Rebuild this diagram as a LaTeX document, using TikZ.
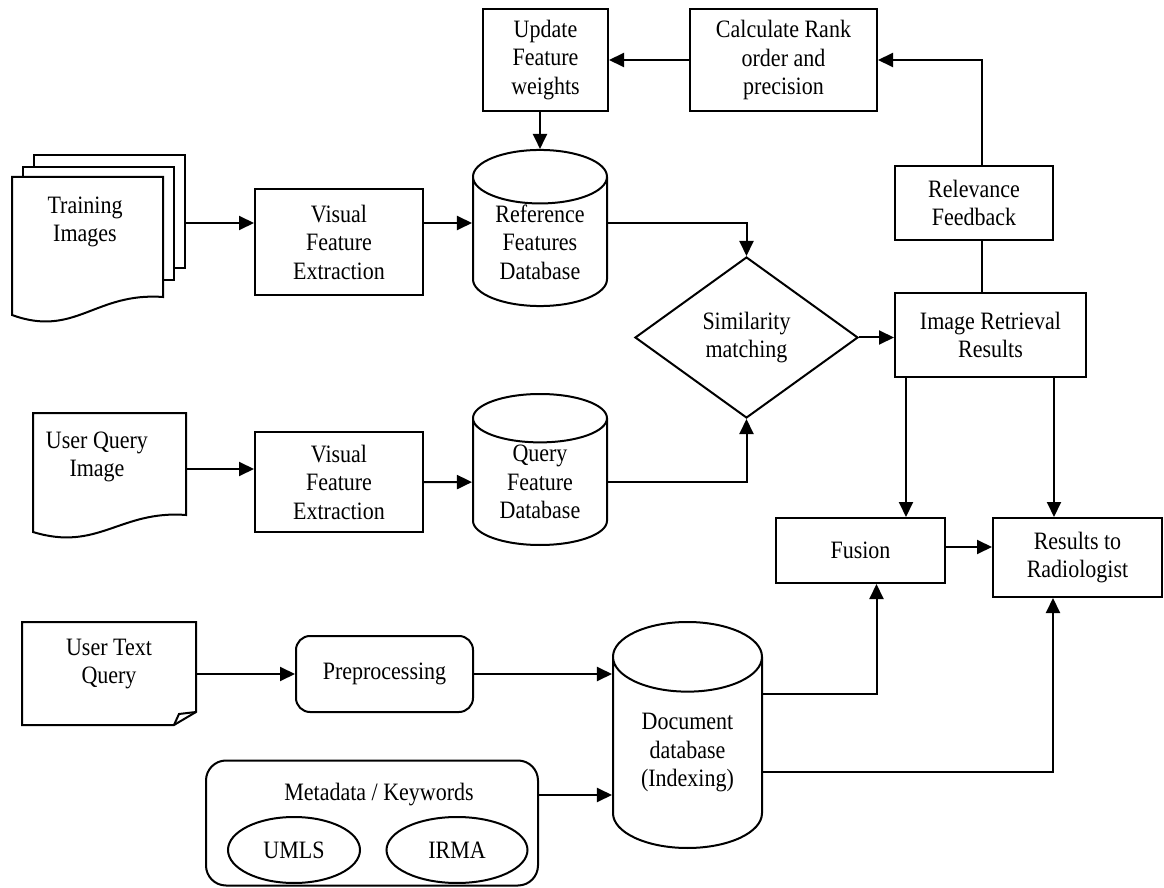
\documentclass[tikz,border=0pt]{standalone}
\usepackage{fontspec}
\setmainfont{Liberation Serif}[FakeStretch=0.88]
\usetikzlibrary{arrows.meta,shapes.geometric,calc}
\tikzset{
  box/.style={draw, line width=1pt, align=center, inner sep=2pt},
  rbox/.style={box, rounded corners=7pt},
  db/.style={cylinder, shape border rotate=90, draw, line width=1pt,
             align=center, inner sep=0pt, anchor=shape center},
  decide/.style={diamond, draw, line width=1pt, align=center, inner sep=0pt},
  oval/.style={ellipse, draw, line width=1pt, inner sep=0pt},
  doctext/.style={align=center, inner sep=1pt},
  link/.style={line width=1pt},
  flow/.style={-{Triangle[length=7.5pt,width=7pt]}, line width=1pt},
}
\begin{document}
\begin{tikzpicture}[x=0.5pt,y=-0.5pt,font=\fontsize{12.5}{14.25}\selectfont]
    \useasboundingbox (0,0) rectangle (1164,888);
    % document outlines
    \foreach \dx/\dy in {22/-22,11/-10} \draw[link,fill=white] (12+\dx,177+\dy) rectangle (163+\dx,290+\dy);
    \draw[link,fill=white] (12,177) -- (163,177) -- (163,297) .. controls (95,292) and (75,338) .. (12,315) -- cycle;
    \draw[link] (33,413) -- (186,413) -- (186,515) .. controls (120,510) and (98,552) .. (33,532) -- cycle;
    \draw[link] (22,622) -- (196,622) -- (196,712) -- (174,725) -- (22,725) -- cycle;
    \draw[link] (174,725) -- (179,714) -- (196,712);
    \node[doctext] (trn) at (85,222) {Training\\Images};
    \node[doctext] (uqi) at (97,457) {User Query\\Image};
    \node[doctext] (utq) at (109,664) {User Text\\Query};
    \coordinate (tin) at (185,223);
    \coordinate (qin) at (186,469);
    \coordinate (tq) at (196,674);
    % boxes
    \node[box, minimum width=62.5pt, minimum height=51pt] (upd) at (545.5,60) {Update\\Feature\\weights};
    \node[box, minimum width=93.5pt, minimum height=51pt] (calc) at (783.5,60) {Calculate Rank\\order and\\precision};
    \node[box, minimum width=79pt, minimum height=37pt] (rel) at (974,203) {Relevance\\Feedback};
    \node[box, minimum width=95.5pt, minimum height=42pt] (irr) at (990.5,335) {Image Retrieval\\Results};
    \node[decide, minimum width=111.5pt, minimum height=80.5pt] (sim) at (746.5,337.5) {Similarity\\matching};
    \node[box, minimum width=84pt, minimum height=53pt] (vfe1) at (339,242) {Visual\\Feature\\Extraction};
    \node[box, minimum width=84pt, minimum height=50pt] (vfe2) at (339,482) {Visual\\Feature\\Extraction};
    \node[db, aspect=0.6, minimum width=67pt, minimum height=76pt] (refdb) at (540,228) {Reference\\Features\\Database};
    \node[db, aspect=0.6, minimum width=67pt, minimum height=75.5pt] (qdb) at (540,469.5) {Query\\Feature\\Database};
    \node[db, aspect=0.75, minimum width=74.5pt, minimum height=113pt] (docdb) at (687.5,735) {Document\\database\\(Indexing)};
    \node[box, minimum width=84.5pt, minimum height=32.5pt] (fus) at (860.5,550.5) {Fusion};
    \node[box, minimum width=84.5pt, minimum height=39.5pt] (res) at (1077.5,557.5) {Results to\\Radiologist};
    \node[rbox, minimum width=88.5pt, minimum height=38pt] (pre) at (384.5,674) {Preprocessing};
    \node[rbox, rounded corners=10pt, minimum width=166pt, minimum height=62.5pt] (meta) at (372,823) {};
    \node (metat) at (379,795) {Metadata / Keywords};
    \node[oval, minimum width=66pt, minimum height=33pt] (umls) at (294,850) {UMLS};
    \node[oval, minimum width=70.5pt, minimum height=33pt] (irma) at (457,850) {IRMA};
    % connectors
    \draw[flow] (tin) -- (tin -| vfe1.west);
    \draw[flow] (vfe1.east |- tin) -- (tin -| refdb.west);
    \draw[flow] (tin -| refdb.east) -| (sim.north);
    \draw[flow] (qin) -- (qin -| vfe2.west);
    \draw[flow] (vfe2.east |- qdb) -- (qdb.west);
    \draw[flow] (qdb.east) -| (sim.south);
    \draw[flow] (sim.east) -- (sim.east -| irr.west);
    \draw[flow] (calc.west) -- (upd.east);
    \draw[flow] ([xshift=4pt]rel.north) |- (calc.east);
    \draw[link] ([xshift=4pt]rel.south) -- ([xshift=4pt]rel.south |- irr.north);
    \draw[flow] (upd.south -| refdb.north) -- (refdb.north);
    \draw[flow] ([xshift=6pt]irr.south west) -- ([xshift=6pt]irr.south west |- fus.north);
    \draw[flow] ([xshift=-16.5pt]irr.south east) -- ([xshift=-16.5pt]irr.south east |- res.north);
    \draw[flow] ([yshift=1.75pt]fus.east) -- ([yshift=1.75pt]fus.east -| res.west);
    \draw[flow] (tq) -- (tq -| pre.west);
    \draw[flow] (pre.east) -- (pre.east -| docdb.west);
    \draw[flow] (meta.east |- metat) -- (metat -| docdb.west);
    \draw[flow] ([yshift=29.5pt]docdb.east) -| ([xshift=8pt]fus.south);
    \draw[flow] ([yshift=-9.5pt]docdb.east) -| ([xshift=-12.25pt]res.south);
\end{tikzpicture}
\end{document}
